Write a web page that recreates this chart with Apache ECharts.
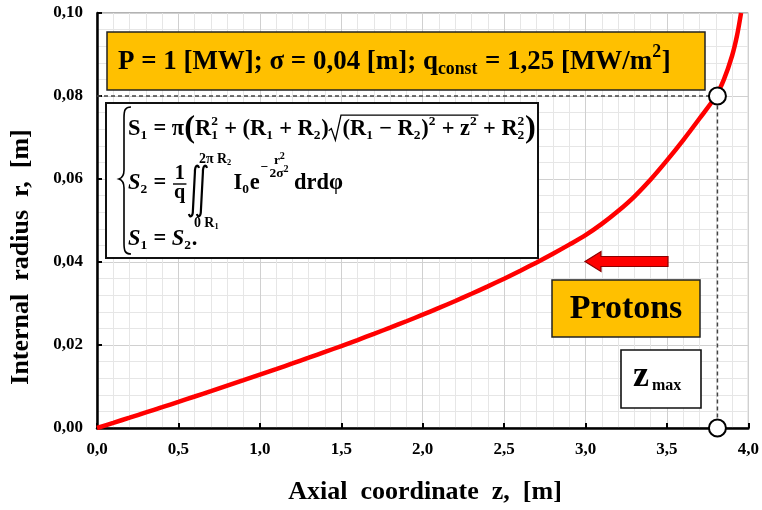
<!DOCTYPE html>
<html><head><meta charset="utf-8">
<script src="https://cdn.jsdelivr.net/npm/echarts@6/dist/echarts.min.js"></script>
<style>html,body{margin:0;padding:0;background:#fff}#c{width:762px;height:510px}</style>
</head><body><div id="c"></div>
<script>
// ---- data ----
const zValues = [0, 0.1, 0.2, 0.3, 0.4, 0.5, 0.6, 0.7, 0.8, 0.9, 1.0, 1.1, 1.2, 1.3, 1.4, 1.5, 1.6, 1.7, 1.8, 1.9, 2.0,
  2.1, 2.2, 2.3, 2.4, 2.5, 2.6, 2.7, 2.8, 2.9, 3.0, 3.1, 3.2, 3.3, 3.4, 3.5, 3.6, 3.7, 3.8, 3.85, 3.9, 3.93, 3.955];
const rValues = [0, 0.00124, 0.00249, 0.00375, 0.00502, 0.00630, 0.00759, 0.00889, 0.01020, 0.01152, 0.01285,
  0.01419, 0.01555, 0.01693, 0.01833, 0.01975, 0.02120, 0.02268, 0.02419, 0.02573, 0.02730,
  0.02893, 0.03061, 0.03234, 0.03413, 0.03598, 0.03790, 0.03990, 0.04199, 0.04418, 0.04648,
  0.04918, 0.05228, 0.05578, 0.05988, 0.06448, 0.06938, 0.07458, 0.07998, 0.08400, 0.08970, 0.09450, 0.10000];
const zMax = 3.81;
const rAtZMax = 0.08;
const xTickLabels = ['0,0', '0,5', '1,0', '1,5', '2,0', '2,5', '3,0', '3,5', '4,0'];
const yTickLabels = ['0,00', '0,02', '0,04', '0,06', '0,08', '0,10'];
const xTitle = 'Axial  coordinate  z,  [m]';
const yTitle = 'Internal  radius  r,  [m]';

// ---- custom path shape for formula strokes ----
echarts.graphic.registerShape('fpath', echarts.graphic.extendShape({
  shape: { d: '' },
  buildPath: function (ctx, shape) {
    const tk = shape.d.trim().split(/[\s,]+/);
    let i = 0, cmd = '';
    while (i < tk.length) {
      if (/^[MLC]$/.test(tk[i])) { cmd = tk[i]; i++; }
      if (cmd === 'M') { ctx.moveTo(+tk[i], +tk[i + 1]); i += 2; cmd = 'L'; }
      else if (cmd === 'L') { ctx.lineTo(+tk[i], +tk[i + 1]); i += 2; }
      else if (cmd === 'C') { ctx.bezierCurveTo(+tk[i], +tk[i + 1], +tk[i + 2], +tk[i + 3], +tk[i + 4], +tk[i + 5]); i += 6; }
      else break;
    }
  }
}));

// ---- text layout helpers (annotations) ----
const FAM = '"Liberation Serif","Times New Roman",serif';
const meas = document.createElement('canvas').getContext('2d');
function fontStr(size, it) { return (it ? 'italic ' : '') + 'bold ' + size.toFixed(2) + 'px ' + FAM; }
function tw(t, size, it) { meas.font = fontStr(size, it); return meas.measureText(t).width; }
function T(t, x, y, size, it, align) {
  return { type: 'text', x: x, y: y, z: 101, style: { text: t, font: fontStr(size, it), fill: '#000', align: align || 'left', verticalAlign: 'middle' } };
}
function P(d, w) { return { type: 'fpath', z: 101, shape: { d: d }, style: { stroke: '#000', lineWidth: w || 1.6, fill: null } }; }
function runLine(tokens, x0, cy, F, els) {
  let x = x0; const marks = {};
  for (const tk of tokens) {
    if (tk.sqrt) { marks.sq = x; x += F * 0.62; continue; }
    if ('sup' in tk || 'sub' in tk) {
      const s = F * (tk.k || 0.6); let w = 0;
      if (tk.sup) { els.push(T(tk.sup, x, cy - F * 0.34, s)); w = Math.max(w, tw(tk.sup, s)); }
      if (tk.sub) { els.push(T(tk.sub, x, cy + F * 0.28, s)); w = Math.max(w, tw(tk.sub, s)); }
      x += w + F * 0.03;
    } else {
      const s = F * (tk.k || 1);
      els.push(T(tk.t, x, cy + (tk.dy || 0) * F, s, tk.it));
      x += tw(tk.t, s, tk.it);
    }
    if (tk.mark) marks[tk.mark] = x;
  }
  marks.end = x;
  return marks;
}
function fitSize(tokens, width) { const m = runLine(tokens, 0, 0, 20, []); return 20 * width / m.end; }

const gfx = [];
// top yellow box
gfx.push({ type: 'rect', z: 100, shape: { x: 107, y: 32, width: 598, height: 58 }, style: { fill: '#FFC000', stroke: '#222', lineWidth: 1.5 } });
const topTokens = [{ t: 'P = 1 [MW]; σ = 0,04 [m]; q' }, { sub: 'const', k: 0.66 }, { t: ' = 1,25 [MW/m' }, { sup: '2', k: 0.66 }, { t: ']' }];
const FT = fitSize(topTokens, 553);
runLine(topTokens, 118, 62, FT, gfx);

// formula box
gfx.push({ type: 'rect', z: 100, shape: { x: 106, y: 103, width: 432, height: 155 }, style: { fill: '#fff', stroke: '#111', lineWidth: 2 } });
gfx.push(P('M 131,107 C 125,107 124,110 124,118 L 124,170 C 124,176 122,178 119,179 C 122,180 124,182 124,188 L 124,243 C 124,251 125,254 131,254', 1.6));
const l1 = [{ t: 'S' }, { sub: '1' }, { t: ' = π' }, { t: '(', k: 1.45 }, { t: 'R' }, { sup: '2', sub: '1' }, { t: ' + (R' }, { sub: '1' }, { t: ' + R' }, { sub: '2' }, { t: ')' },
  { sqrt: true }, { t: '(R' }, { sub: '1' }, { t: ' − R' }, { sub: '2' }, { t: ')' }, { sup: '2' }, { t: ' + z' }, { sup: '2', mark: 'sqEnd' }, { t: ' + R' }, { sup: '2', sub: '2' }, { t: ')', k: 1.45 }];
const F = fitSize(l1, 408);
const cy1 = 129;
const m1 = runLine(l1, 128, cy1, F, gfx);
{
  const x0 = m1.sq, top = cy1 - F * 0.62, bot = cy1 + F * 0.5;
  gfx.push(P(`M ${x0},${cy1 + F * 0.08} L ${x0 + F * 0.12},${cy1 - F * 0.02} L ${x0 + F * 0.3},${bot} L ${x0 + F * 0.55},${top} L ${m1.sqEnd + 1},${top}`, 1.3));
}
// line 2
const cy2 = 183;
const m2 = runLine([{ t: 'S', it: true }, { sub: '2' }, { t: ' = ' }], 128, cy2, F, gfx);
const fx = m2.end + F * 0.35;
gfx.push(T('1', fx, cy2 - 9, F * 0.9, false, 'center'));
gfx.push(P(`M ${fx - F * 0.3},${cy2 + 1} L ${fx + F * 0.3},${cy2 + 1}`, 1.4));
gfx.push(T('q', fx, cy2 + 10, F * 0.9, false, 'center'));
const ix = fx + F * 0.5;
for (const dx of [3, 11]) {
  const c = ix + dx, y0 = cy2 - 18, y1 = cy2 + 34;
  gfx.push(P(`M ${c + 5},${y0 + 3} C ${c + 4},${y0 - 1} ${c + 1},${y0} ${c + 1},${y0 + 7} L ${c - 1},${y1 - 7} C ${c - 1},${y1} ${c - 4},${y1 + 1} ${c - 5},${y1 - 3}`, 2.2));
}
runLine([{ t: '2π R' }, { sub: '2' }], ix + 8, cy2 - 24, F * 0.62, gfx);
runLine([{ t: '0 R' }, { sub: '1' }], ix + 3, cy2 + 40, F * 0.62, gfx);
const m2b = runLine([{ t: 'I' }, { sub: '0' }, { t: 'e' }], ix + F * 1.9, cy2, F, gfx);
const ex = m2b.end + 1;
gfx.push(T('−', ex, cy2 - 15, F * 0.6));
const efx = ex + tw('−', F * 0.6) + F * 0.55;
runLine([{ t: 'r' }, { sup: '2', k: 0.75 }], efx - F * 0.3, cy2 - 22, F * 0.6, gfx);
runLine([{ t: '2σ' }, { sup: '2', k: 0.75 }], efx - F * 0.5, cy2 - 9, F * 0.6, gfx);
runLine([{ t: 'drdφ' }], efx + F * 0.6, cy2, F, gfx);
// line 3
runLine([{ t: 'S', it: true }, { sub: '1' }, { t: ' = ' }, { t: 'S', it: true }, { sub: '2' }, { t: '.' }], 128, 239, F, gfx);

// arrow
gfx.push({ type: 'polygon', z: 100, shape: { points: [[585, 261.5], [601, 251.5], [601, 256.5], [668, 256.5], [668, 266.5], [601, 266.5], [601, 271.5]] }, style: { fill: '#FF0000', stroke: '#8a0000', lineWidth: 1.2 } });
// Protons box
gfx.push({ type: 'rect', z: 100, shape: { x: 552, y: 280, width: 148, height: 57 }, style: { fill: '#FFC000', stroke: '#222', lineWidth: 1.5 } });
gfx.push(T('Protons', 626, 309, 34, false, 'center'));
// z max box
gfx.push({ type: 'rect', z: 100, shape: { x: 621, y: 350, width: 80, height: 58 }, style: { fill: '#fff', stroke: '#111', lineWidth: 1.6 } });
gfx.push(T('z', 633, 377, 36));
gfx.push(T('max', 652, 386, 16));
// axis titles
gfx.push({ type: 'text', z: 101, x: 425, y: 492, style: { text: xTitle, font: fontStr(26), fill: '#000', align: 'center', verticalAlign: 'middle' } });
gfx.push({ type: 'text', z: 101, x: 21, y: 257, rotation: Math.PI / 2, style: { text: yTitle, font: fontStr(26), fill: '#000', align: 'center', verticalAlign: 'middle' } });

const axisLabelStyle = { fontFamily: FAM, fontWeight: 'bold', fontSize: 17, color: '#000' };

const option = {
  backgroundColor: '#fff',
  animation: false,
  grid: { left: 97, right: 13, top: 13, bottom: 82, show: true, borderColor: '#666', borderWidth: 1 },
  xAxis: {
    type: 'value', min: 0, max: 4, interval: 0.5,
    axisLine: { onZero: false, lineStyle: { color: '#000', width: 2.5 } },
    axisTick: { inside: true, length: 5, lineStyle: { color: '#000', width: 2 } },
    axisLabel: Object.assign({ margin: 13, formatter: (v, i) => xTickLabels[i] }, axisLabelStyle),
    splitLine: { lineStyle: { color: '#d0d0d0', width: 1 } },
    minorTick: { show: false, splitNumber: 5 },
    minorSplitLine: { show: true, lineStyle: { color: '#e6e6e6', width: 1 } }
  },
  yAxis: {
    type: 'value', min: 0, max: 0.1, interval: 0.02,
    axisLine: { onZero: false, lineStyle: { color: '#000', width: 2.5 } },
    axisTick: { inside: true, length: 5, lineStyle: { color: '#000', width: 2 } },
    axisLabel: Object.assign({ margin: 14, formatter: (v, i) => yTickLabels[i] }, axisLabelStyle),
    splitLine: { lineStyle: { color: '#d0d0d0', width: 1 } },
    minorTick: { show: false, splitNumber: 5 },
    minorSplitLine: { show: true, lineStyle: { color: '#e6e6e6', width: 1 } }
  },
  series: [
    {
      type: 'line', data: [[0, rAtZMax], [zMax, rAtZMax], [zMax, 0]], symbol: 'none', z: 3,
      lineStyle: { color: '#444', width: 1.5, type: [4, 3] }
    },
    {
      type: 'line', data: zValues.map((z, i) => [z, rValues[i]]), smooth: 0.3,
      symbol: 'none', z: 4, lineStyle: { color: '#FF0000', width: 4.5 }
    },
    {
      type: 'scatter', data: [[zMax, rAtZMax], [zMax, 0]], symbol: 'circle', symbolSize: 17, clip: false, z: 5,
      itemStyle: { color: '#fff', opacity: 1, borderColor: '#000', borderWidth: 2 }
    }
  ],
  graphic: { elements: gfx }
};
const chart = echarts.init(document.getElementById('c'));
chart.setOption(option);
</script></body></html>
